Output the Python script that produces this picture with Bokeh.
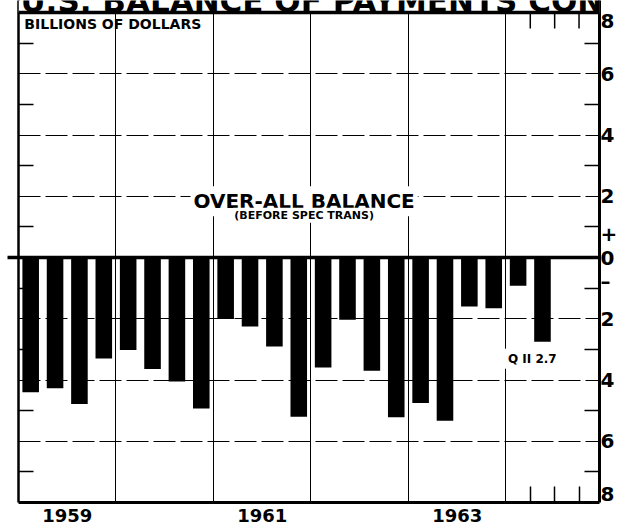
from bokeh.plotting import figure
from bokeh.models import FixedTicker, Span, Label, LinearAxis, ColumnDataSource, BoxAnnotation
from bokeh.embed import file_html
from bokeh.resources import INLINE

# ---- data (billions of dollars, quarterly over-all balance) ----
years = [1959] * 4 + [1960] * 4 + [1961] * 4 + [1962] * 4 + [1963] * 4 + [1964] * 2
quarters = [1, 2, 3, 4] * 5 + [1, 2]
balance = [-4.40, -4.27, -4.78, -3.30,
           -3.02, -3.64, -4.05, -4.93,
           -2.01, -2.25, -2.91, -5.20,
           -3.59, -2.03, -3.70, -5.22,
           -4.75, -5.33, -1.60, -1.66,
           -0.92, -2.75]

year_label_ticks = [1959.5, 1961.5, 1963.5]
year_labels = ["1959", "1961", "1963"]
year_lines = [1960, 1961, 1962, 1963, 1964]
quarter_ticks_1964 = [1964.25, 1964.5, 1964.75]
grid_values = [6, 4, 2, -2, -4, -6]
odd_ticks = [7, 5, 3, 1, -1, -3, -5, -7]
right_label_pos = [7.72, 6, 4, 2, 0.77, 0, -0.78, -2, -4, -6, -7.72]
right_labels = ["8", "6", "4", "2", "+", "0", "\u2013", "2", "4", "6", "8"]

x_pos = [y + (q - 0.5) / 4 for y, q in zip(years, quarters)]
src = ColumnDataSource(dict(x=x_pos, v=balance))

FONT = "DejaVu Sans"
X_START, X_END = 1959.0, 1964.96
Y_MIN, Y_MAX = -8, 8
TOP_STRIP = 0.392          # room above the chart box for the clipped page heading
TICK_LEN = 0.52            # quarterly tick length in the 1964 column (y units)

p = figure(width=620, height=526, x_range=(X_START, X_END), y_range=(Y_MIN, Y_MAX + TOP_STRIP),
           output_backend="svg", toolbar_location=None,
           min_border_left=18, min_border_right=18, min_border_top=0, min_border_bottom=24,
           margin=(0, 0, 0, 0))
p.background_fill_color = "white"
p.border_fill_color = "white"
p.outline_line_color = None

# grids
p.xgrid.ticker = FixedTicker(ticks=year_lines)
p.xgrid.grid_line_color = "black"
p.xgrid.grid_line_width = 1
p.ygrid.ticker = FixedTicker(ticks=grid_values)
p.ygrid.grid_line_color = "black"
p.ygrid.grid_line_width = 1.2
p.ygrid.grid_line_dash = "22 5"

# bottom axis: year labels + quarterly ticks in 1964, line = bottom border
bx = p.xaxis[0]
bx.ticker = FixedTicker(ticks=year_label_ticks, minor_ticks=quarter_ticks_1964)
bx.major_label_overrides = {t: s for t, s in zip(year_label_ticks, year_labels)}
bx.axis_line_color = "black"
bx.axis_line_width = 3
bx.major_tick_in = 0
bx.major_tick_out = 0
bx.minor_tick_in = 16
bx.minor_tick_out = 0
bx.minor_tick_line_width = 1.5
bx.minor_tick_line_color = "black"
bx.major_label_text_font = FONT
bx.major_label_text_font_style = "bold"
bx.major_label_text_font_size = "18px"
bx.major_label_text_color = "black"
bx.major_label_standoff = 6

# left axis: border line, inward ticks at odd values, zero line stub outward
ly = p.yaxis[0]
ly.ticker = FixedTicker(ticks=[0], minor_ticks=odd_ticks)
ly.major_label_overrides = {0: ""}
ly.major_label_text_font_size = "0px"
ly.major_label_standoff = 0
ly.axis_line_color = "black"
ly.axis_line_width = 2.5
ly.major_tick_in = 0
ly.major_tick_out = 11
ly.major_tick_line_width = 3.5
ly.major_tick_line_color = "black"
ly.minor_tick_in = 15
ly.minor_tick_out = 0
ly.minor_tick_line_width = 1.5
ly.minor_tick_line_color = "black"

# right axis: border line, labels + inward ticks at odd values
ry = LinearAxis(ticker=FixedTicker(ticks=right_label_pos, minor_ticks=odd_ticks))
ry.major_label_overrides = {t: s for t, s in zip(right_label_pos, right_labels)}
ry.axis_line_color = "black"
ry.axis_line_width = 3
ry.major_tick_in = 0
ry.major_tick_out = 0
ry.minor_tick_in = 15
ry.minor_tick_out = 0
ry.minor_tick_line_width = 1.5
ry.minor_tick_line_color = "black"
ry.major_label_text_font = FONT
ry.major_label_text_font_style = "bold"
ry.major_label_text_font_size = "20px"
ry.major_label_text_color = "black"
ry.major_label_standoff = 1
p.add_layout(ry, "right")

# bars
p.vbar(x="x", top=0, bottom="v", width=0.17, source=src,
       fill_color="black", line_color=None)

# quarterly ticks hanging from the top border in 1964
p.segment(x0=quarter_ticks_1964, x1=quarter_ticks_1964,
          y0=[Y_MAX] * len(quarter_ticks_1964),
          y1=[Y_MAX - TICK_LEN] * len(quarter_ticks_1964),
          line_color="black", line_width=1.5)

# zero line
p.add_layout(Span(location=0, dimension="width", line_color="black", line_width=3.5))

# blank strip above the chart box, then the top border
p.add_layout(BoxAnnotation(bottom=Y_MAX, fill_color="white", fill_alpha=1.0,
                           line_alpha=0))
p.add_layout(Span(location=Y_MAX, dimension="width", line_color="black", line_width=3.5))

# texts
p.add_layout(Label(x=1959.02, y=8.38, text="U.S. BALANCE OF PAYMENTS CONT",
                   text_font=FONT, text_font_style="bold", text_font_size="31px",
                   text_color="black", text_baseline="alphabetic"))
p.add_layout(Label(x=1959.06, y=7.62, text="BILLIONS OF DOLLARS",
                   text_font=FONT, text_font_style="bold", text_font_size="14px",
                   text_color="black", text_baseline="alphabetic"))
p.add_layout(Label(x=1961.93, y=1.84, text="OVER-ALL BALANCE",
                   text_font=FONT, text_font_style="bold", text_font_size="20px",
                   text_color="black", text_align="center", text_baseline="alphabetic",
                   background_fill_color="white", padding=3))
p.add_layout(Label(x=1961.93, y=1.38, text="(BEFORE SPEC TRANS)",
                   text_font=FONT, text_font_style="bold", text_font_size="11px",
                   text_color="black", text_align="center", text_baseline="alphabetic",
                   background_fill_color="white", padding=1))
p.add_layout(Label(x=1963.99, y=-3.31, text="Q II 2.7",
                   text_font=FONT, text_font_style="bold", text_font_size="12px",
                   text_color="black", text_baseline="alphabetic",
                   background_fill_color="white", padding=3))

open("out.html", "w").write(file_html(p, INLINE))
